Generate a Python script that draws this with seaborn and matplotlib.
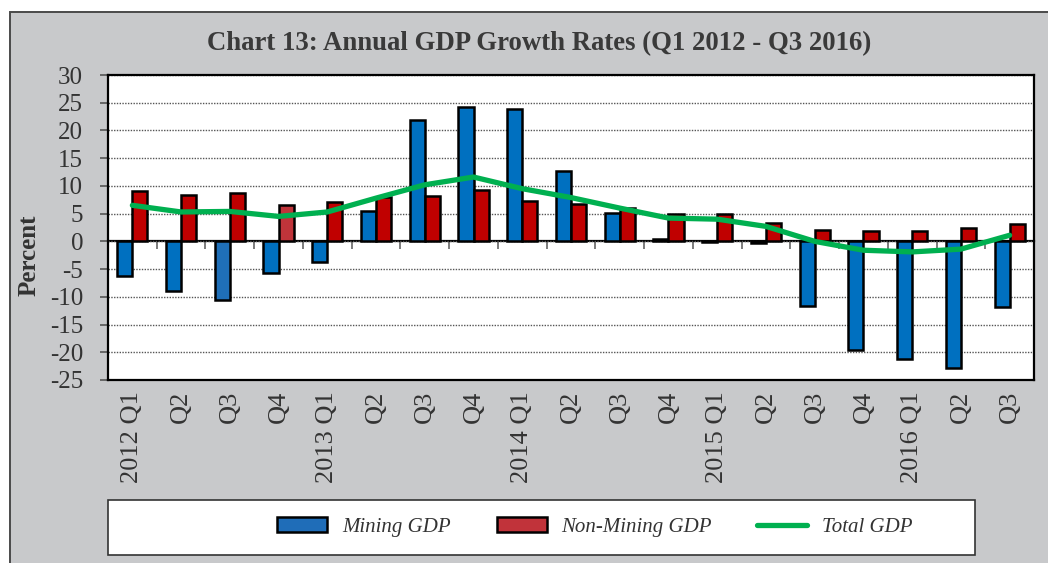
import numpy as np
import pandas as pd
import matplotlib.pyplot as plt
import seaborn as sns
from matplotlib.patches import Rectangle, Patch
from matplotlib.lines import Line2D

# Chart data
quarters = ['2012 Q1', 'Q2', 'Q3', 'Q4', '2013 Q1', 'Q2', 'Q3', 'Q4',
            '2014 Q1', 'Q2', 'Q3', 'Q4', '2015 Q1', 'Q2', 'Q3', 'Q4',
            '2016 Q1', 'Q2', 'Q3']
mining = [-6.2, -9.0, -10.5, -5.7, -3.8, 5.5, 21.8, 24.2, 23.9, 12.6,
          5.2, 0.5, -0.1, -0.3, -11.7, -19.5, -21.3, -22.9, -11.9]
non_mining = [9.0, 8.3, 8.7, 6.5, 7.1, 8.0, 8.2, 9.2, 7.3, 6.7,
              6.1, 4.9, 4.9, 3.4, 2.1, 1.8, 1.8, 2.4, 3.1]
total = [6.5, 5.3, 5.4, 4.5, 5.3, 7.8, 10.2, 11.6, 9.5, 7.9,
         6.0, 4.2, 4.0, 2.7, 0.0, -1.6, -1.9, -1.4, 1.1]
series_names = ['Mining GDP', 'Non-Mining GDP', 'Total GDP']
y_ticks = list(range(-25, 31, 5))

blue = '#0070C0'
red = '#C00000'
green = '#00B050'
bg = '#C8C9CB'
txt = '#333333'

# long form table for seaborn
keys = [f'{i:02d}' for i in range(len(quarters))]
df = pd.DataFrame({
    'key': keys * 2,
    'value': mining + non_mining,
    'series': [series_names[0]] * len(mining) + [series_names[1]] * len(non_mining),
})

sns.set_style('white')
plt.rcParams['font.family'] = ['Liberation Serif', 'DejaVu Serif']

fig = plt.figure(figsize=(10.48, 5.63), dpi=100, facecolor='white')
W, H = 1048, 563

# grey panel behind everything
fig.patches.append(Rectangle((10 / W, -0.02), 1.0, 1 - 12 / H + 0.02, transform=fig.transFigure,
                             facecolor=bg, edgecolor='#4a4a4a', lw=1.4, zorder=-5))

ax = fig.add_axes([108 / W, 1 - 380 / H, 926 / W, 305 / H])
ax.set_facecolor('white')

sns.barplot(data=df, x='key', y='value', hue='series', order=keys,
            palette=[blue, red], saturation=1, width=0.62, edgecolor='black', linewidth=1.8,
            legend=False, ax=ax, zorder=2)
ax.containers[0][2].set_facecolor('#1F6FB8')
ax.containers[1][3].set_facecolor('#C0343A')

sns.lineplot(x=np.arange(len(total)), y=total, color=green, linewidth=3.8, ax=ax, zorder=4)

ax.set_ylim(-25, 30)
ax.set_xlim(-0.5, len(quarters) - 0.5)
ax.set_yticks(y_ticks)
ax.set_yticklabels([str(v) for v in y_ticks])
ax.set_xticks(np.arange(len(quarters)))
ax.set_xticklabels(quarters, rotation=90, va='top', ha='center')
ax.tick_params(axis='x', length=0, pad=8, labelsize=19, labelcolor=txt)
ax.tick_params(axis='y', direction='out', length=6, width=1.2, color='#555555',
               pad=12, labelsize=18, labelcolor=txt, left=True)
ax.set_xlabel('')
ax.set_ylabel('Percent', fontsize=18, fontweight='bold', color=txt)
ax.yaxis.set_label_coords(-0.073, 0.41)

ax.set_axisbelow(True)
ax.yaxis.grid(True, linestyle=(0, (1, 1)), color='#555555', linewidth=1.0)
for s in ax.spines.values():
    s.set_visible(True)
    s.set_color('black')
    s.set_linewidth(1.6)

# zero line with category-boundary ticks
sec = ax.secondary_xaxis(25 / 55)
sec.set_xticks(np.arange(len(quarters) + 1) - 0.5)
sec.tick_params(axis='x', direction='out', length=6, width=1.2, color='#666666', labelbottom=False, labeltop=False)
sec.spines['bottom'].set_color('black')
sec.spines['bottom'].set_linewidth(1.6)

fig.text(539 / W, 1 - 44 / H, 'Chart 13: Annual GDP Growth Rates (Q1 2012 - Q3 2016)',
         ha='center', va='center', fontsize=19.3, fontweight='bold', color='#3a3a3a')

# legend box
fig.patches.append(Rectangle((108 / W, 1 - 555 / H), 867 / W, 55 / H, transform=fig.transFigure,
                             facecolor='white', edgecolor='#333333', lw=1.2, zorder=1))
handles = [Patch(facecolor='#1F6DB8', edgecolor='black', lw=1.8),
           Patch(facecolor='#C1333A', edgecolor='black', lw=1.8),
           Line2D([], [], color=green, lw=3.8)]
fig.legend(handles, series_names, loc='center', bbox_to_anchor=(595 / W, 1 - 527 / H),
           ncol=3, frameon=False, prop={'family': 'Liberation Serif', 'style': 'italic', 'size': 15},
           handlelength=2.4, handleheight=0.75, handletextpad=0.7, columnspacing=2.2,
           labelcolor=txt)

fig.savefig('out.png', dpi=100, facecolor='white')
